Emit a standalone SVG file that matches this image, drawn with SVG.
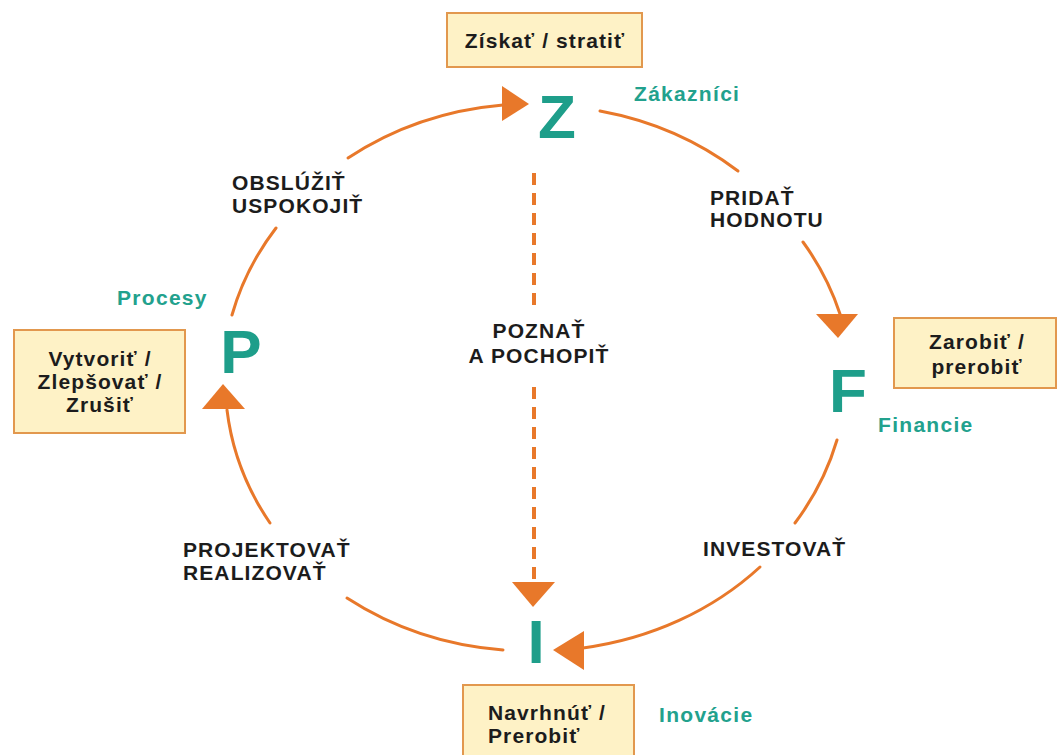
<svg xmlns="http://www.w3.org/2000/svg" width="1057" height="755" viewBox="0 0 1057 755">
  <style>
    .box { fill: #FEF2C6; stroke: #E2984E; stroke-width: 2; }
    .btxt { font-family: "Liberation Sans", Arial, sans-serif; font-weight: bold; font-size: 21px; fill: #1c1c1c; letter-spacing: 1.1px; }
    .lbl { font-family: "Liberation Sans", Arial, sans-serif; font-weight: bold; font-size: 21px; fill: #1c1c1c; letter-spacing: 1.1px; }
    .big { font-family: "Liberation Sans", Arial, sans-serif; font-weight: bold; font-size: 62px; fill: #1E9E8A; }
    .tl { font-family: "Liberation Sans", Arial, sans-serif; font-weight: bold; font-size: 21px; fill: #22A18D; letter-spacing: 1.3px; }
    .arc { fill: none; stroke: #E8782A; stroke-width: 3; stroke-linecap: round; }
    .dash { fill: none; stroke: #E8782A; stroke-width: 4; stroke-dasharray: 12 8; }
    .head { fill: #E8782A; }
  </style>
  <rect width="1057" height="755" fill="#ffffff"/>

  <!-- cycle connectors -->
  <g id="connectors">
    <!-- P to Z -->
    <path class="arc" d="M232,315 A310,275 0 0 1 276,228"/>
    <path class="arc" d="M348,158 A310,275 0 0 1 503,105"/>
    <polygon class="head" points="502,86 502,121 529,104"/>
    <!-- Z to F -->
    <path class="arc" d="M600,111 A310,275 0 0 1 738,171"/>
    <path class="arc" d="M803,242 A310,275 0 0 1 840,314"/>
    <polygon class="head" points="816,314 858,314 838,338"/>
    <!-- F to I -->
    <path class="arc" d="M837,440 A310,275 0 0 1 795,523"/>
    <path class="arc" d="M760,567 A310,275 0 0 1 583,648"/>
    <polygon class="head" points="553,650 584,631 584,670"/>
    <!-- I to P -->
    <path class="arc" d="M503,650 A310,275 0 0 1 347,598"/>
    <path class="arc" d="M270,523 A310,275 0 0 1 227,410"/>
    <polygon class="head" points="223,384 202,409 245,409"/>
    <!-- Z to I, dashed -->
    <line class="dash" x1="534" y1="173" x2="534" y2="312"/>
    <line class="dash" x1="534" y1="387" x2="534" y2="580"/>
    <polygon class="head" points="512,582 555,582 533,607"/>
  </g>

  <!-- edge labels -->
  <g id="edge-labels">
    <text class="lbl" x="232" y="190">OBSLÚŽIŤ</text>
    <text class="lbl" x="232" y="213">USPOKOJIŤ</text>
    <text class="lbl" x="710" y="205">PRIDAŤ</text>
    <text class="lbl" x="710" y="227">HODNOTU</text>
    <text class="lbl" x="539" y="338" text-anchor="middle">POZNAŤ</text>
    <text class="lbl" x="539" y="363" text-anchor="middle">A POCHOPIŤ</text>
    <text class="lbl" x="183" y="557">PROJEKTOVAŤ</text>
    <text class="lbl" x="183" y="580">REALIZOVAŤ</text>
    <text class="lbl" x="703" y="556">INVESTOVAŤ</text>
  </g>

  <!-- Z: customers -->
  <g id="node-z">
    <rect class="box" x="447" y="13" width="195" height="54"/>
    <text class="btxt" x="545" y="48" text-anchor="middle">Získať / stratiť</text>
    <text class="big" x="557" y="138" text-anchor="middle">Z</text>
    <text class="tl" x="634" y="101">Zákazníci</text>
  </g>

  <!-- F: finance -->
  <g id="node-f">
    <rect class="box" x="894" y="318" width="162" height="70"/>
    <text class="btxt" x="977" y="349" text-anchor="middle">Zarobiť /</text>
    <text class="btxt" x="977" y="374" text-anchor="middle">prerobiť</text>
    <text class="big" x="848" y="412" text-anchor="middle">F</text>
    <text class="tl" x="878" y="432">Financie</text>
  </g>

  <!-- I: innovation -->
  <g id="node-i">
    <rect class="box" x="463" y="685" width="171" height="80"/>
    <text class="btxt" x="488" y="720">Navrhnúť /</text>
    <text class="btxt" x="488" y="743">Prerobiť</text>
    <text class="big" x="536" y="663" text-anchor="middle">I</text>
    <text class="tl" x="659" y="722">Inovácie</text>
  </g>

  <!-- P: processes -->
  <g id="node-p">
    <rect class="box" x="14" y="330" width="171" height="103"/>
    <text class="btxt" x="100" y="366" text-anchor="middle">Vytvoriť /</text>
    <text class="btxt" x="100" y="389" text-anchor="middle">Zlepšovať /</text>
    <text class="btxt" x="100" y="412" text-anchor="middle">Zrušiť</text>
    <text class="big" x="241" y="373" text-anchor="middle">P</text>
    <text class="tl" x="117" y="305">Procesy</text>
  </g>
</svg>
